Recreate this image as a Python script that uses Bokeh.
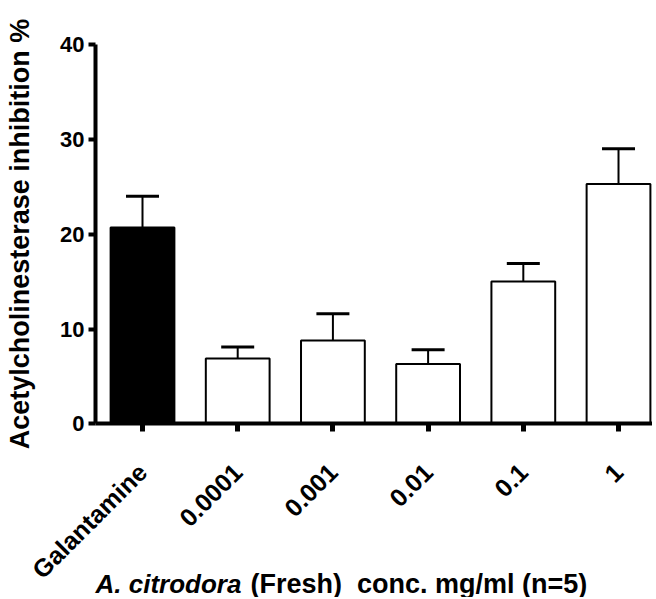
import math
from bokeh.plotting import figure
from bokeh.models import (ColumnDataSource, Range1d, FixedTicker, Whisker, TeeHead, Label)
from bokeh.embed import file_html
from bokeh.resources import INLINE

categories = ["Galantamine", "0.0001", "0.001", "0.01", "0.1", "1"]
means = [20.7, 6.9, 8.8, 6.3, 15.0, 25.3]
sem = [3.3, 1.2, 2.8, 1.5, 1.9, 3.7]
fills = ["black", "white", "white", "white", "white", "white"]
y_ticks = [0, 10, 20, 30, 40]

FONT = "Liberation Sans"

xs = list(range(len(categories)))
src = ColumnDataSource(dict(
    x=xs, y=means, top=[m + s for m, s in zip(means, sem)], fill=fills))

X0, X1 = -1.4916, 5.357
Y0, Y1 = -18.32, 44.65
YAX = -0.494

p = figure(width=652, height=597, output_backend="svg", toolbar_location=None,
           x_range=Range1d(X0, X1), y_range=Range1d(Y0, Y1),
           min_border_left=0, min_border_right=0, min_border_top=0,
           min_border_bottom=0)
p.outline_line_color = None
p.xgrid.visible = False
p.ygrid.visible = False
p.background_fill_color = "white"

p.vbar(x="x", top="y", width=0.67, bottom=0, source=src, fill_color="fill",
       line_color="black", line_width=2)

w = Whisker(source=src, base="x", lower="y", upper="top", dimension="height",
            line_width=2, line_color="black",
            upper_head=TeeHead(size=33, line_width=3, line_color="black"),
            lower_head=None)
p.add_layout(w)

# y axis
ya = p.yaxis[0]
ya.fixed_location = YAX
ya.bounds = (0, 40)
ya.ticker = FixedTicker(ticks=y_ticks)
ya.axis_line_width = 4
ya.axis_line_color = "black"
ya.major_tick_line_width = 4
ya.major_tick_line_color = "black"
ya.major_tick_out = 7
ya.major_tick_in = 0
ya.minor_tick_line_color = None
ya.major_label_text_font = FONT
ya.major_label_text_font_style = "bold"
ya.major_label_text_font_size = "22px"
ya.major_label_text_color = "black"
ya.major_label_standoff = 4
ya.axis_label = "Acetylcholinesterase inhibition %"
ya.axis_label_text_font = FONT
ya.axis_label_text_font_style = "bold"
ya.axis_label_text_font_size = "27px"
ya.axis_label_text_color = "black"
ya.axis_label_standoff = 22

# x axis
xa = p.xaxis[0]
xa.fixed_location = 0
xa.bounds = (YAX, X1)
xa.ticker = FixedTicker(ticks=xs)
xa.major_label_overrides = {i: c for i, c in enumerate(categories)}
xa.axis_line_width = 4
xa.axis_line_color = "black"
xa.major_tick_line_width = 5
xa.major_tick_line_color = "black"
xa.major_tick_out = 8
xa.major_tick_in = 0
xa.minor_tick_line_color = None
xa.major_label_orientation = math.pi / 4
xa.major_label_text_font = FONT
xa.major_label_text_font_style = "bold"
xa.major_label_text_font_size = "25px"
xa.major_label_text_color = "black"
xa.major_label_standoff = 36

lab1 = Label(x=95, y=14, x_units="screen", y_units="screen",
             text="A. citrodora", text_font=FONT, text_font_style="bold italic",
             text_font_size="26px", text_baseline="middle", text_color="black")
lab2 = Label(x=250, y=14, x_units="screen", y_units="screen",
             text="(Fresh)\u00a0 conc. mg/ml (n=5)", text_font=FONT,
             text_font_style="bold", text_font_size="27px",
             text_baseline="middle", text_color="black")
p.add_layout(lab1)
p.add_layout(lab2)

open("out.html", "w").write(file_html(p, INLINE))
